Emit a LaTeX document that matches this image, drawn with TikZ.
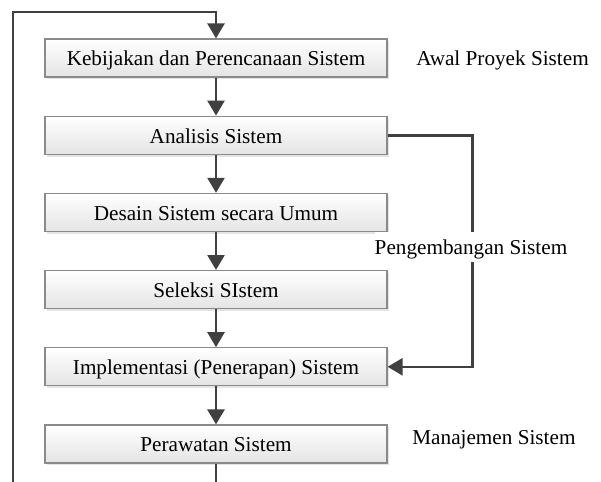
\documentclass[tikz,border=0pt]{standalone}
\usepackage{fontspec}
\setmainfont{Liberation Serif}
\usepackage{tikz}
\usetikzlibrary{arrows.meta,positioning,shadows}
\definecolor{linec}{HTML}{404040}
\definecolor{edgec}{HTML}{8A8A8A}
\definecolor{boxbot}{HTML}{E4E4E4}
\tikzset{
  ar/.style={-{Triangle[length=7.5pt,width=8.5pt]},line width=1.3pt,linec},
  ln/.style={line width=1.3pt,linec},
  box/.style={draw=edgec,line width=0.6pt,top color=white,bottom color=boxbot,minimum width=171pt,minimum height=19pt,inner sep=0pt,text height=9.4pt,text depth=1.6pt,font=\fontsize{10.6}{12}\selectfont,drop shadow={shadow xshift=1.2pt,shadow yshift=-1.2pt,fill=gray!60,opacity=.35}},
  lbl/.style={font=\fontsize{10.6}{12}\selectfont,inner sep=0pt,text height=9.4pt,text depth=1.6pt}
}
\begin{document}
\begin{tikzpicture}[x=0.5pt,y=-0.5pt]
\useasboundingbox (0,0) rectangle (601,482);
\node[box] (kebijakan) at (216,58) {Kebijakan dan Perencanaan Sistem};
\node[box,below=19pt of kebijakan] (analisis) {Analisis Sistem};
\node[box,below=19pt of analisis] (desain) {Desain Sistem secara Umum};
\node[box,below=19pt of desain] (seleksi) {Seleksi SIstem};
\node[box,below=19pt of seleksi] (implementasi) {Implementasi (Penerapan) Sistem};
\node[box,below=19pt of implementasi] (perawatan) {Perawatan Sistem};
\foreach \a/\b in {kebijakan/analisis,analisis/desain,desain/seleksi,seleksi/implementasi,implementasi/perawatan}
  \draw[ar] (\a) -- (\b);
% loop back to the top
\coordinate (lb) at (13,482);
\coordinate (lt) at (13,12);
\coordinate (pb) at (216,482);
\draw[ln] (perawatan) -- (pb);
\draw[ar] (lb) -- (lt) -| (kebijakan.north);
\draw[ar] (analisis.east) -- ++(85,0) |- (implementasi.east);
\node[lbl,fill=white,inner ysep=2pt] (pengembangan) at (471,247) {Pengembangan Sistem};
\node[lbl,anchor=west] (awal) at (416,58) {Awal Proyek Sistem};
\node[lbl,anchor=west] (manajemen) at (412,437) {Manajemen Sistem};
\end{tikzpicture}
\end{document}
